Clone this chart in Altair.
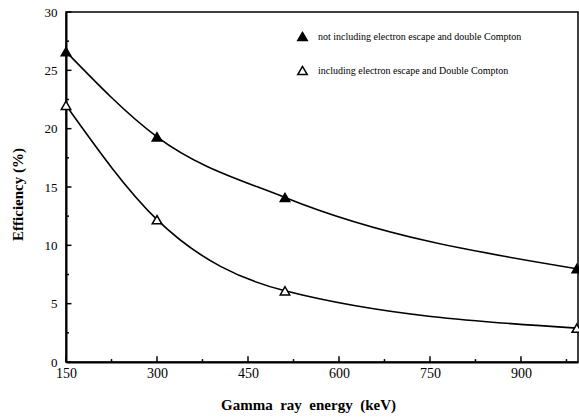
import altair as alt
import pandas as pd

energy = [150, 300, 511, 992]
eff_not_incl = [26.6, 19.3, 14.1, 8.0]
eff_incl = [22.0, 12.2, 6.1, 2.9]
series_names = [
    "not including electron escape and double Compton",
    "including electron escape and Double Compton",
]
x_major = [150, 300, 450, 600, 750, 900]
x_minor = [225, 375, 525, 675, 825, 975]
y_major = [0, 5, 10, 15, 20, 25, 30]
y_minor = [2.5, 7.5, 12.5, 17.5, 22.5, 27.5]

rows = []
for e, v in zip(energy, eff_not_incl):
    rows.append({"energy": e, "eff": v, "series": series_names[0]})
for e, v in zip(energy, eff_incl):
    rows.append({"energy": e, "eff": v, "series": series_names[1]})
df = pd.DataFrame(rows)

FONT = "Liberation Serif"
NB = "\u00a0"
xs = alt.Scale(domain=[150, 994], nice=False, zero=False)
ys = alt.Scale(domain=[0, 30], nice=False, zero=True)

x_axis = alt.Axis(
    values=x_major, ticks=False, grid=False, orient="bottom", labelFlush=False,
    domainColor="black", domainWidth=2, labelPadding=4, labelFontSize=14,
    title=f"Gamma{NB} ray{NB} energy{NB} (keV)", titleX=242,
    titleFontSize=15, titlePadding=17)
y_axis = alt.Axis(
    values=y_major, ticks=False, grid=False, orient="left", labelFlush=False,
    domainColor="black", domainWidth=2, labelPadding=9, labelFontSize=13,
    title="Efficiency (%)", titleY=182,
    titleFontSize=15, titlePadding=19)

base = alt.Chart(df)

lines = base.mark_line(interpolate="monotone", color="black", strokeWidth=1.6).encode(
    x=alt.X("energy:Q", scale=xs, axis=x_axis),
    y=alt.Y("eff:Q", scale=ys, axis=y_axis),
    detail="series:N",
)

points = base.mark_point(filled=True, shape="triangle-up", size=90, stroke="black",
                         strokeWidth=1.5, opacity=1, clip=False).encode(
    x=alt.X("energy:Q", scale=xs, axis=x_axis),
    y=alt.Y("eff:Q", scale=ys, axis=y_axis),
    fill=alt.Fill("series:N", scale=alt.Scale(domain=series_names, range=["black", "white"]),
                  legend=alt.Legend(orient="none", legendX=231, legendY=19, title=None,
                                    labelFont=FONT, labelFontSize=10, labelColor="black",
                                    symbolType="triangle-up", symbolSize=90,
                                    symbolStrokeColor="black", symbolStrokeWidth=1.5,
                                    rowPadding=19, labelOffset=10, labelLimit=400)),
)

def x_ticks(vals, length):
    return alt.Chart(pd.DataFrame({"t": vals})).mark_rule(color="black", strokeWidth=1.5).encode(
        x=alt.X("t:Q", scale=xs, axis=x_axis),
        y=alt.Y(datum=0, scale=ys, axis=y_axis),
        y2=alt.datum(length),
    )

def y_ticks(vals, length):
    return alt.Chart(pd.DataFrame({"t": vals})).mark_rule(color="black", strokeWidth=1.5).encode(
        y=alt.Y("t:Q", scale=ys, axis=y_axis),
        x=alt.X(datum=150, scale=xs, axis=x_axis),
        x2=alt.datum(150 + length),
    )

chart = alt.layer(
    lines, points,
    x_ticks(x_major, 0.5), x_ticks(x_minor, 0.25),
    y_ticks(y_major, 9), y_ticks(y_minor, 5),
).properties(
    width=512, height=350,
    autosize=alt.AutoSizeParams(type="none"),
    padding={"left": 66, "top": 12, "right": 1, "bottom": 55},
    background="white",
).configure_view(stroke="black", strokeWidth=1.5).configure_axis(
    labelFont=FONT, labelColor="black",
    titleFont=FONT, titleFontWeight="bold", titleColor="black",
)

chart.save("out.html", embed_options={"renderer": "svg", "actions": False})
